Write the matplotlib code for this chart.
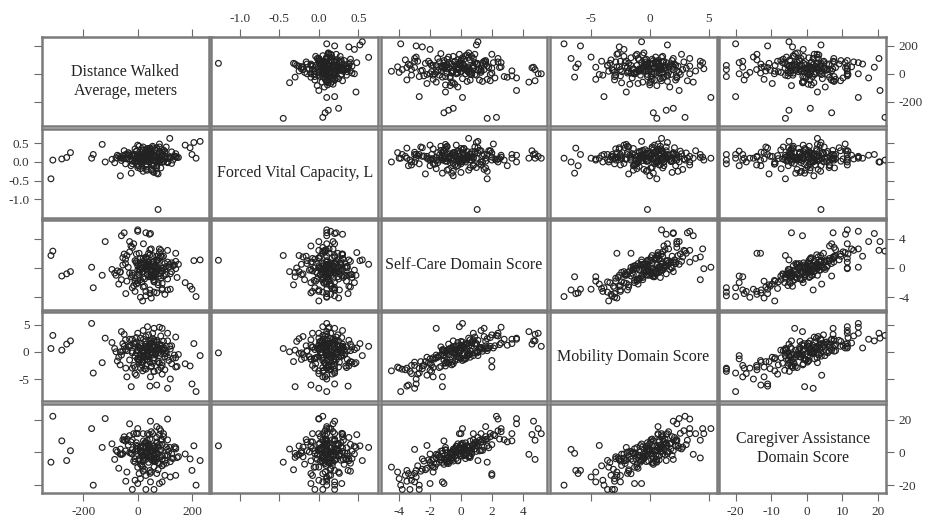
import matplotlib
matplotlib.use("Agg")
import matplotlib.pyplot as plt
from matplotlib.gridspec import GridSpec

plt.rcParams['font.family'] = ['Liberation Serif', 'DejaVu Serif']
plt.rcParams['axes.unicode_minus'] = False

# ---- data: one entry per subject (outliers, core, low-end, high-end, centre groups) ----
distance = [
    -320, -313, -280, -262, -248, -170, -164, -131, -120, 0,
    47, 0, 47, 215, 200, 230, 175, 193, 118, 75,
    -24, 18, -44, 207, -64,
    10, 35, -20, 60, 80, -45, 25, 110, 5, 45,
    -70, 90, 15, 70, -10, 130, 40, -30, 55, 100,
    20, -55, 65, 30, 140, -5, 85, 50, -85, 115,
    0, 75, -40, 60, 95, 10, -60, 40, 125, 20,
    -15, 70, 35, 150, -95, 45, 80, 5, 105, -25,
    55, 25, 90, -50, 65, 140, 0, 30, -75, 85,
    50, 10, 120, -35, 75, 40, 100, -20, 60, 15,
    95, -65, 30, 135, 50, -10, 80, 20, 110, -45,
    65, 35, 90, 0, 55, -80, 125, 25, 70, -30,
    45, 105, 10, 60, -55, 85, 35, 145, -5, 75,
    30, 60, -20, 80, 10, 100, -10, 50, 120, 70, -40, 90,
    21, 43, 0, 60, 36, 90, -50, 30, 110, -30, 70,
    140, 20, 55, 95, -15, 80, -60, 5, 45, 110, -5,
    20, 40, 60, 0, 30, 50, 80, -10, 15, 45,
    70, 25, 35, 55, -5, 65, 10, 40, 90, 30,
    5, 50, 75, 20, 60, -20, 35, 85, 45, 15,
]
fvc = [
    -0.45, 0.05, 0.08, 0.12, 0.25, 0.10, 0.20, 0.47, 0.00, 0.10,
    0.20, -0.10, 0.05, 0.10, 0.20, 0.55, 0.45, 0.38, 0.63, -1.27,
    -0.30, 0.00, 0.10, 0.52, -0.37,
    0.05, 0.12, 0.02, 0.18, 0.08, -0.05, 0.25, 0.10, -0.10, 0.30,
    0.15, 0.00, 0.20, -0.15, 0.35, 0.05, 0.12, 0.08, -0.08, 0.22,
    0.40, 0.10, 0.02, -0.20, 0.15, 0.28, 0.05, 0.18, -0.02, 0.10,
    0.45, 0.06, 0.20, -0.28, 0.32, 0.14, 0.04, 0.24, -0.04, 0.10,
    0.16, 0.38, -0.22, 0.12, 0.07, 0.26, 0.00, 0.20, 0.09, -0.10,
    0.42, 0.06, 0.17, 0.30, 0.03, 0.22, -0.06, 0.12, 0.18, 0.08,
    0.34, 0.00, 0.14, 0.25, -0.32, 0.10, 0.28, 0.05, 0.20, 0.36,
    0.02, 0.12, -0.08, 0.16, 0.24, 0.10, 0.48, 0.04, -0.02, 0.20,
    0.13, 0.31, 0.07, 0.19, -0.25, 0.11, 0.27, 0.15, 0.01, 0.22,
    0.09, 0.40, 0.14, -0.04, 0.17, 0.23, 0.06, 0.12, 0.29, 0.08,
    0.20, 0.05, -0.05, 0.29, 0.10, 0.15, 0.00, 0.25, 0.10, -0.10, 0.08, 0.20,
    0.10, 0.30, 0.15, 0.12, 0.05, 0.20, 0.10, 0.22, 0.00, 0.18, 0.10,
    0.13, 0.30, -0.08, 0.00, 0.20, 0.13, 0.10, 0.05, 0.37, 0.00, 0.10,
    -0.25, 0.35, 0.15, -0.15, 0.30, -0.20, 0.40, 0.18, -0.05, 0.28,
    -0.30, 0.24, -0.12, 0.38, 0.04, 0.33, -0.18, 0.00, 0.26, -0.08,
    0.42, -0.22, 0.03, 0.31, -0.10, 0.15, 0.36, -0.16, 0.22, 0.09,
]
selfcare = [
    1.7, 2.3, -1.1, -0.8, -0.5, 0.1, -2.7, -1.0, 3.6, 5.2,
    4.7, -2.0, -1.2, -3.9, -2.9, 1.1, -2.0, -2.5, 0.5, 1.05,
    -1.2, -4.5, -3.5, 1.0, -0.5,
    -0.3, 0.5, -1.0, 0.2, -0.8, 1.2, -1.5, 0.8, -0.2, 1.8,
    -2.2, 0.0, -0.6, 1.0, -1.8, 0.3, -1.2, 2.2, -0.4, 0.6,
    -2.6, 0.4, -0.9, 1.5, -0.1, 0.9, -1.4, 2.6, -0.7, 0.1,
    -0.3, -2.0, 1.7, 0.0, -1.1, 0.7, -1.6, 2.0, -0.5, 0.4,
    -2.4, 1.1, -0.9, 0.5, -0.2, -3.0, 1.4, -0.6, 0.2, 3.0,
    -1.3, 0.6, -2.8, 1.9, -0.1, 0.9, -1.7, 0.3, -0.4, 2.4,
    -1.0, 1.3, -0.8, 0.1, -2.3, 0.8, -0.2, 2.8, -1.9, 0.0,
    1.6, -0.6, -3.2, 0.4, -1.2, 1.0, 2.1, -0.5, -1.5, 0.6,
    -0.3, 1.2, -2.1, 0.3, 1.7, -1.0, 0.7, -2.5, 0.1, -0.7,
    2.5, -0.9, 0.5, -1.8, 1.4, -0.4, 0.2, -1.3, 1.9, -0.1,
    -3.8, -3.3, -2.7, -1.1, -4.0, -3.6, -3.2, -4.1, -2.9, -3.4, -1.8, -3.0,
    3.3, 4.6, 5.0, -1.6, -0.1, 1.5, 4.8, 4.8, 2.4, 3.6, 1.6,
    2.0, 1.3, 0.8, 0.0, 3.3, 2.6, 4.4, 2.0, -3.5, -3.0, -2.2,
    -0.5, 0.2, -1.1, 0.6, -0.2, -0.8, 0.9, -1.4, 0.0, 0.4,
    -0.6, 1.1, -0.3, -1.0, 0.7, 0.1, -1.6, 0.3, -0.4, 1.3,
    -0.9, 0.5, -0.1, -1.3, 0.8, -0.7, 0.2, 1.6, -0.2, -1.9,
]
mobility = [
    0.6, 3.0, 0.3, 1.4, 2.0, 5.2, -3.9, -2.0, 2.5, 1.0,
    2.0, -1.3, -4.6, -7.3, -5.9, -0.7, -2.2, -2.6, 1.0, -0.2,
    -6.4, -3.5, -3.0, 1.5, 0.0,
    1.1, -0.6, -0.2, 1.3, -2.1, 0.4, -0.9, 2.0, -1.4, 0.7,
    -1.0, 1.2, -1.9, 0.1, -2.9, -1.2, 0.3, 1.1, 0.9, -0.4,
    -1.8, 1.5, -0.3, 2.8, -1.1, -0.2, -2.9, 1.6, 0.6, -1.6,
    0.4, -3.4, 0.2, 1.9, 0.3, 1.6, -0.6, 3.1, -2.2, -0.8,
    -2.5, 2.1, -1.4, -0.5, 1.7, -1.9, 0.5, 0.8, -0.3, 1.2,
    0.9, -1.0, -4.1, 1.0, -0.2, 2.7, -1.3, 1.4, -1.7, 2.9,
    -2.6, 0.6, 0.5, 0.9, -1.8, -0.7, -0.9, 2.3, -3.6, 0.2,
    1.9, -2.4, -2.5, -0.6, 0.4, 1.5, 0.7, -0.1, -1.0, 2.2,
    -0.5, 0.8, -2.0, -1.3, 2.4, 0.0, 1.1, -3.1, 1.8, -1.5,
    1.3, 0.2, 2.5, -1.1, 0.1, -0.3, 0.8, -2.7, 2.6, 0.3,
    -3.2, -3.6, -3.0, -0.7, -3.0, -3.3, -4.0, -2.8, -5.0, -6.1, -4.6, -2.5,
    2.3, 1.4, 3.4, 4.3, 4.6, 4.3, 3.2, 2.0, 3.4, 2.3, 0.7,
    -2.8, 3.9, 3.4, 0.7, 1.5, 4.5, 3.7, -1.6, -6.3, -6.7, -4.3,
    -0.3, 0.9, -1.6, 0.2, 1.0, -0.5, 1.4, -0.8, -1.2, 0.6,
    0.3, 0.0, -0.9, -2.1, 1.8, -0.4, -1.1, 1.2, 0.5, 0.8,
    -1.9, -0.2, 0.7, -0.6, 2.2, 0.1, -1.4, 1.1, -0.1, -2.4,
]
caregiver = [
    -6, 22, 7, -5, 1, 14.5, -20, 3, 20.6, 11.4,
    19, -19, -18, -20, -11, -5, -1, -4, 3, 4,
    -0.6, -9, -17.6, 4, 2,
    3.5, -2.8, 1.6, -1.4, -6.8, 0.9, -1.9, 7.6, -5.2, 2.8,
    -9.7, 4.8, 0.2, 6.3, -3.9, -3.8, -6.1, 10.2, 2.4, -2.1,
    -11.5, -0.8, -5.6, 3.2, 2.9, 5.9, -2.7, 12.6, -4.3, 0.6,
    3.8, -6.2, 8.1, -1.9, -7.3, 0.3, -1.2, 4.7, -3.5, 4.1,
    -5.3, 9.1, -0.4, -2.6, 5.2, -12.8, 1.2, -4.6, 3.3, 6.4,
    0.7, -3.1, -8.2, 9.5, 1.8, 2.1, -9.1, 5.8, 0.4, 13.2,
    -4.4, 1.1, -5.7, 4.4, -10.6, 5.1, -4.8, 7.7, -4.9, -2.3,
    9.6, -1.1, -14.1, 3.4, 0.9, 0.6, 10.8, -5.3, -1.6, 6.9,
    -3.7, 7.3, -4.6, 2.2, 3.9, 1.3, -0.9, -10.3, 5.6, -0.2,
    8.1, -6.6, 2.7, -8.9, 7.7, 1.4, -2.0, -3.2, 11.6, -0.9,
    -22.6, -22.6, -22.6, -19, -16, -14, -17, -12, -15, -12.9, -12, -18,
    7, 10.9, 14.5, -3.4, 11.4, 7.4, 7.4, -4.3, 20.3, 17.4, 15.7,
    -14, 11.4, 11.4, 11.4, 11.4, 14.5, -1.2, -13, -11, 1.8, 4.2,
    -1.5, 2.8, -4.2, 1.0, 0.5, -2.7, 4.9, -6.0, -0.8, 3.6,
    -3.1, 5.5, 0.2, -5.1, 2.2, -0.3, -7.2, 1.7, -2.0, 6.4,
    -3.8, 0.9, 3.0, -4.5, 4.0, -1.1, -0.5, 7.8, 1.3, -8.0,
]

labels = ["Distance Walked\nAverage, meters", "Forced Vital Capacity, L",
          "Self-Care Domain Score", "Mobility Domain Score",
          "Caregiver Assistance\nDomain Score"]
col_ticks = [[-200, 0, 200], [-1.0, -0.5, 0.0, 0.5], [-4, -2, 0, 2, 4],
             [-5, 0, 5], [-20, -10, 0, 10, 20]]
row_ticks = [[-200, 0, 200], [-1.0, -0.5, 0.0, 0.5], [-4, 0, 4],
             [-5, 0, 5], [-20, 0, 20]]
col_tick_labels = [["-200", "0", "200"], ["-1.0", "-0.5", "0.0", "0.5"],
                   ["-4", "-2", "0", "2", "4"], ["-5", "0", "5"],
                   ["-20", "-10", "0", "10", "20"]]
row_tick_labels = [["-200", "0", "200"], ["-1.0", "-0.5", "0.0", "0.5"],
                   ["-4", "0", "4"], ["-5", "0", "5"], ["-20", "0", "20"]]

# axis ranges (horizontal per column, vertical per row)
xlims = [(-353, 262), (-1.36, 0.75), (-5.2, 5.6), (-8.5, 5.7), (-24.6, 22.3)]
ylims = [(-378, 264), (-1.5, 0.89), (-5.7, 6.5), (-9.1, 7.3), (-24.8, 29.7)]

data = [distance, fvc, selfcare, mobility, caregiver]
n = len(data)

fig = plt.figure(figsize=(9.33, 5.19), dpi=100)
gs = GridSpec(n, n, figure=fig, left=0.045, right=0.9497, top=0.9287,
              bottom=0.050, wspace=0.015, hspace=0.025)

border = '#7a7a7a'
for i in range(n):
    for j in range(n):
        ax = fig.add_subplot(gs[i, j])
        ax.set_xlim(*xlims[j])
        ax.set_ylim(*ylims[i])
        for sp in ax.spines.values():
            sp.set_color(border)
            sp.set_linewidth(1.8)
        if i == j:
            ax.text(0.5, 0.5, labels[i], transform=ax.transAxes, ha='center',
                    va='center', fontsize=11.5, color='#222222',
                    linespacing=1.25)
        else:
            ax.scatter(data[j], data[i], s=17, facecolors='none',
                       edgecolors='#222222', linewidths=0.85, zorder=3)
        ax.set_xticks(col_ticks[j])
        ax.set_xticklabels(col_tick_labels[j])
        ax.set_yticks(row_ticks[i])
        ax.set_yticklabels(row_tick_labels[i])
        ax.tick_params(axis='both', direction='out', length=6, width=0.8,
                       color='#6a6a6a', labelsize=9.5, labelcolor='#333333',
                       pad=3)
        ax.tick_params(axis='x', top=(i == 0), bottom=(i == n - 1),
                       labeltop=(i == 0 and j % 2 == 1),
                       labelbottom=(i == n - 1 and j % 2 == 0))
        ax.tick_params(axis='y', left=(j == 0), right=(j == n - 1),
                       labelleft=(j == 0 and i % 2 == 1),
                       labelright=(j == n - 1 and i % 2 == 0))

fig.savefig("out.png", dpi=100, facecolor='white')
